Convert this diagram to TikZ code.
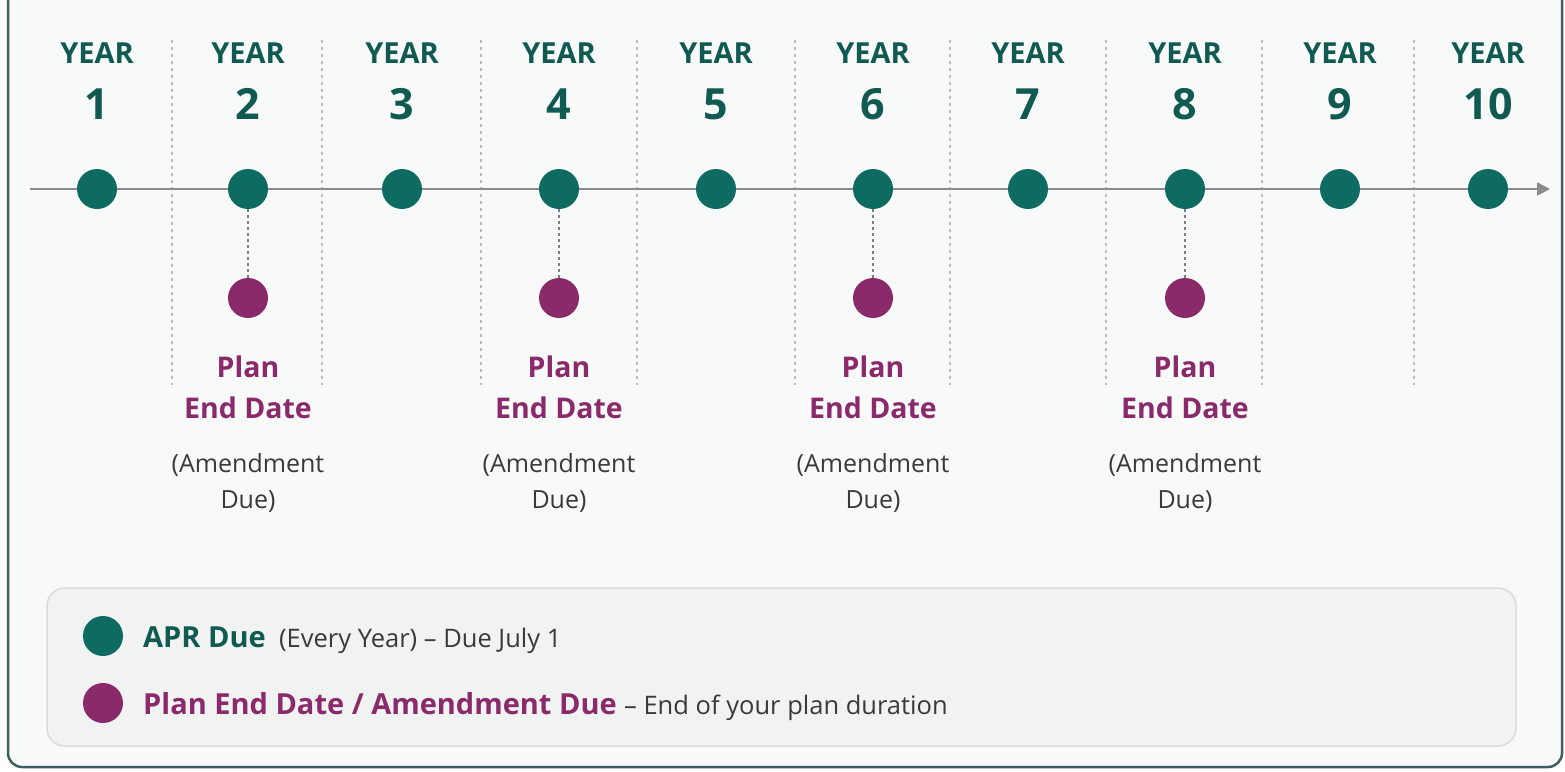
\documentclass[tikz,border=0pt]{standalone}
\usepackage{fontspec}
\setmainfont{Open Sans}
\usetikzlibrary{arrows.meta}
\definecolor{teal1}{HTML}{0E6B62}
\definecolor{tealtxt}{HTML}{105A52}
\definecolor{purp}{HTML}{8A2A6A}
\definecolor{purptxt}{HTML}{8B2A6B}
\definecolor{gtxt}{HTML}{3A3A3A}
\definecolor{lineg}{HTML}{8C8C8C}
\definecolor{frame}{HTML}{3F5F5C}
\definecolor{bg}{HTML}{F8F9F9}
\definecolor{legbg}{HTML}{F1F2F2}
\definecolor{legbd}{HTML}{D9DCDC}
\tikzset{
  tdot/.style={circle,fill=teal1,minimum size=40pt,inner sep=0pt},
  pdot/.style={circle,fill=purp,minimum size=40pt,inner sep=0pt},
  yearlbl/.style={font=\bfseries\fontsize{29}{32}\selectfont,text=tealtxt},
  yearnum/.style={font=\bfseries\fontsize{43}{46}\selectfont,text=tealtxt},
  planlbl/.style={font=\bfseries\fontsize{28.5}{41}\selectfont,text=purptxt,align=center},
  amendlbl/.style={font=\fontsize{25}{36}\selectfont,text=gtxt,align=center},
  sep/.style={draw=lineg!60,line width=1.2pt,dash pattern=on 3pt off 4pt},
  conn/.style={draw=lineg!90!black,line width=1.5pt,dash pattern=on 3pt off 3pt},
  legbold/.style={font=\bfseries\fontsize{29}{32}\selectfont,anchor=base west,inner sep=0pt},
  legreg/.style={font=\fontsize{25.5}{30}\selectfont,text=gtxt,anchor=base west,inner sep=0pt},
}
\begin{document}
\begin{tikzpicture}[x=1pt,y=-1pt]
\useasboundingbox (0,0) rectangle (1565,771);
\clip (0,0) rectangle (1565,771);
\fill[white] (0,0) rectangle (1565,771);
\draw[frame,line width=2.5pt,fill=bg,rounded corners=14pt] (8,-30) rectangle (1562,767);
% separators
\foreach \x in {172,322,481,637,795,950,1106,1262,1414}{
  \draw[sep] (\x,40) -- (\x,385);
}
% timeline
\coordinate (ls) at (30,189);
\coordinate (le) at (1550,189);
\draw[lineg,line width=2.5pt,-{Triangle[length=13pt,width=13pt]}] (ls) -- (le);
% years
\foreach \n/\x in {1/97,2/248,3/402,4/559,5/716,6/873,7/1028,8/1185,9/1340,10/1488}{
  \node[yearlbl,anchor=base] (y\n) at (\x,63) {YEAR};
  \node[yearnum,anchor=base] (n\n) at (\x,119) {\n};
  \node[tdot] (t\n) at (\x,189) {};
}
% plan end markers
\foreach \n/\x in {2/248,4/559,6/873,8/1185}{
  \node[pdot] (p\n) at (\x,298) {};
  \draw[conn] (t\n) -- (p\n);
  \node[planlbl,anchor=base] (pl\n) at (\x,377) {Plan};
  \node[planlbl,anchor=base] (pe\n) at (\x,418) {End Date};
  \node[amendlbl,anchor=base] (am\n) at (\x,472) {(Amendment};
  \node[amendlbl,anchor=base] (du\n) at (\x,508) {Due)};
}
% legend
\draw[legbd,line width=1.5pt,fill=legbg,rounded corners=18pt] (47,588) rectangle (1516,746);
\node[tdot] (lt) at (103,636) {};
\node[pdot] (lp) at (103,703) {};
\node[legbold,text=tealtxt] (la) at (143,647) {APR Due};
\node[legreg] (lb) at ([xshift=13pt]la.base east) {(Every Year) – Due July 1};
\node[legbold,text=purptxt] (lc) at (143,714) {Plan End Date / Amendment Due};
\node[legreg] (ld) at ([xshift=7pt]lc.base east) {– End of your plan duration};
\end{tikzpicture}
\end{document}
